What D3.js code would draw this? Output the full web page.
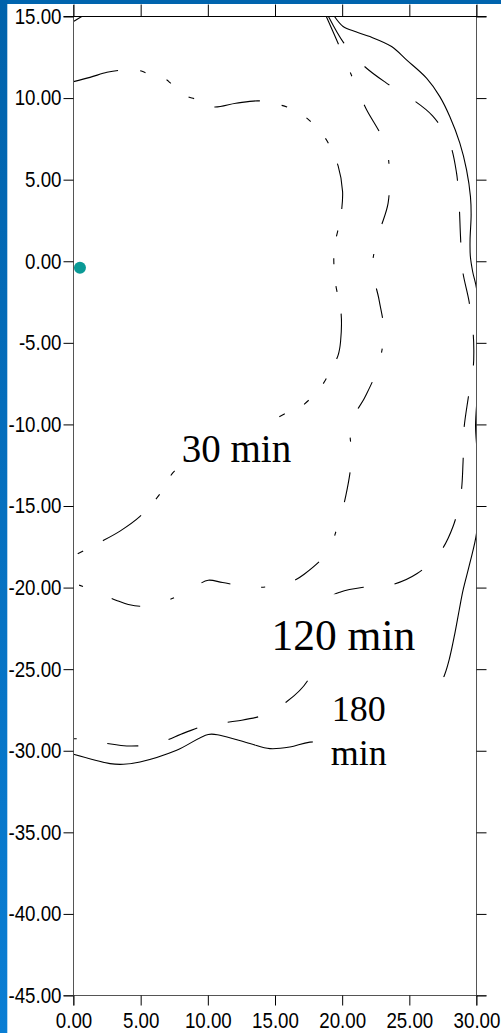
<!DOCTYPE html>
<html>
<head>
<meta charset="utf-8">
<script src="https://cdn.jsdelivr.net/npm/d3@7"></script>
<style>
html, body { margin: 0; padding: 0; background: #fff; }
svg { display: block; }
</style>
</head>
<body>
<div id="chart"></div>
<script>
// axis ticks
var xTicks = [0, 5, 10, 15, 20, 25, 30];
var yTicks = [15, 10, 5, 0, -5, -10, -15, -20, -25, -30, -35, -40, -45];

// well location
var well = [[0.48, -0.4]];

// 30 min contour (dash-dot-dot)
var c30 = [[0,11.01],[1.23,11.27],[2.49,11.58],[3.33,11.69],[4.9,11.69],[5.32,11.57],[6.93,11.12],
  [7.18,10.95],[8.52,10.08],[9.04,9.95],[10.38,9.46],[12.09,9.68],[13.8,9.83],[15.36,9.58],[15.89,9.46],
  [17.23,8.85],[17.6,8.6],[18.71,7.58],[19.01,7.17],[19.7,5.84],[20.03,4.27],[19.96,3.14],[19.83,2.43],
  [19.4,0.69],[19.49,-1.25],[19.92,-3.19],[19.88,-4.93],[19.7,-5.75],[19.08,-6.79],[18.34,-7.79],
  [16.98,-8.88],[16.61,-9.0],[14.25,-9.98],[11.64,-11.15],[9.04,-12.19],[7.55,-12.83],[6.41,-14.29],
  [4.95,-15.64],[3.46,-16.54],[1.97,-17.22],[0.24,-17.95],[0,-18.04]];

// unlabelled contour (dash-dot)
var c60 = [[18.82,15],[19.78,13.2],[20.74,11.3],[21.76,9.38],[22.86,7.79],[23.33,6.82],[23.5,5.72],
  [23.42,3.56],[22.75,1.72],[22.25,-0.35],[22.75,-2.38],[23.1,-4.32],[22.67,-6.47],[21.69,-8.34],
  [20.63,-9.94],[20.7,-12.07],[20.28,-14.34],[19.68,-16.18],[18.9,-17.83],[17.17,-19.18],[16.35,-19.59],
  [15.36,-19.85],[13.21,-19.98],[11.1,-19.69],[10.03,-19.55],[9.21,-19.85],[7.18,-20.73],[5.07,-21.14],
  [4.08,-21.04],[3.16,-20.77],[1.13,-20.06],[0,-19.73]];

// 120 min contour (dashed)
var c120 = [[18.98,15],[20.13,13.37],[21.61,11.98],[23.25,10.95],[25.09,10.0],[26.73,8.91],[27.96,7.33],
  [28.51,5.43],[28.71,3.45],[28.81,1.51],[28.96,-0.54],[29.45,-2.48],[29.75,-4.4],[29.8,-5.44],
  [29.76,-6.47],[29.38,-8.4],[29.06,-10.35],[29.0,-12.29],[28.83,-14.33],[28.26,-16.24],[27.22,-17.91],
  [25.58,-19.14],[23.75,-19.81],[21.74,-19.96],[19.88,-20.27],[18.79,-20.77],[18.27,-22.0],[18.04,-23.53],
  [17.75,-24.94],[17.4,-25.74],[15.91,-26.97],[14.08,-27.83],[12.14,-28.18],[10.03,-28.4],[8.3,-28.89],
  [6.31,-29.53],[4.33,-29.71],[2.34,-29.53],[1.23,-29.32],[0,-29.26]];

// 180 min contour (solid)
var c180 = [[19.43,15],[20.07,14.39],[21.02,14.06],[22.06,13.77],[23.68,13.16],[24.79,12.34],[26.28,11.22],
  [27.27,10.09],[28.01,8.87],[28.76,7.24],[29.26,5.6],[29.55,3.96],[29.6,2.84],[29.52,1.3],[29.54,0.32],
  [29.72,-0.66],[30.0,-1.66],[30.17,-3.6],[30.21,-6.06],[30.06,-8.2],[29.93,-10.1],[30.06,-11.88],
  [30.17,-14.33],[30.0,-16.68],[29.5,-18.52],[29.0,-20.16],[28.71,-21.39],[28.39,-22.8],[28.01,-24.27],
  [27.64,-25.31],[26.75,-26.91],[25.04,-28.26],[22.66,-29.11],[20.2,-29.48],[17.6,-29.47],[16.11,-29.77],
  [14.62,-29.87],[13.13,-29.56],[10.9,-29.05],[10.03,-29.0],[7.68,-29.97],[4.95,-30.69],[3.71,-30.83],
  [2.72,-30.79],[0,-30.22]];

var cornerBit = [[0,14.69],[0.61,15]];

var labelText = [['30 min'], ['120 min'], ['180', 'min']];
var labelAt = [[12.13,-12.31], [20.09,-23.84], [21.24,-28.18]];

var W = 501, H = 1033;
var x = d3.scaleLinear().domain([0, 30]).range([73.5, 476.5]);
var y = d3.scaleLinear().domain([-45, 15]).range([995.5, 16.5]);

var svg = d3.select('#chart').append('svg')
  .attr('width', W)
  .attr('height', H);

var defs = svg.append('defs');
var grad = defs.append('linearGradient').attr('id', 'edge')
  .attr('x1', 0).attr('y1', 0).attr('x2', 0).attr('y2', 1);
grad.append('stop').attr('offset', '0%').attr('stop-color', '#0062ab');
grad.append('stop').attr('offset', '100%').attr('stop-color', '#0a7ed4');

defs.append('clipPath').attr('id', 'plotclip')
  .append('rect')
  .attr('x', x(0)).attr('y', y(15))
  .attr('width', x(30) - x(0)).attr('height', y(-45) - y(15));

svg.append('rect').attr('x', 0).attr('y', 0).attr('width', W).attr('height', 4).attr('fill', '#0064ae');
svg.append('rect').attr('x', 0).attr('y', 0).attr('width', 7.3).attr('height', H).attr('fill', 'url(#edge)');

var line = d3.line()
  .x(function(d){ return x(d[0]); })
  .y(function(d){ return y(d[1]); })
  .curve(d3.curveCatmullRom.alpha(0.5));

var plot = svg.append('g').attr('clip-path', 'url(#plotclip)');

var curves = [
  {data: c30, dash: '46,22,6,22,6,22,6,22'},
  {data: c60, dash: '30,31,4,31'},
  {data: c120, dash: '31,31'},
  {data: c180, dash: null},
  {data: cornerBit, dash: null}
];

curves.forEach(function(c){
  plot.append('path')
    .datum(c.data)
    .attr('d', line)
    .attr('fill', 'none')
    .attr('stroke', '#000')
    .attr('stroke-width', 1.1)
    .attr('stroke-dasharray', c.dash);
});

// labels with white boxes
var labelSize = [39, 43.5, 36];
var labelPad = [[8, 44, 8, 4], [8, 56, 13, 18], [18, 44, 59, 7]];
var labelLead = 44.3;

labelText.forEach(function(lines, i){
  var g = svg.append('g');
  var box = g.append('rect').attr('fill', '#fff');
  var t = g.append('text')
    .attr('x', x(labelAt[i][0]))
    .attr('y', y(labelAt[i][1]))
    .attr('text-anchor', 'middle')
    .attr('font-family', '"Liberation Serif", "Times New Roman", serif')
    .attr('font-size', labelSize[i])
    .attr('fill', '#000');
  lines.forEach(function(s, j){
    t.append('tspan')
      .attr('x', x(labelAt[i][0]))
      .attr('dy', j === 0 ? 0 : labelLead)
      .text(s);
  });
  var bb = t.node().getBBox();
  var base = y(labelAt[i][1]);
  var p = labelPad[i];
  var lastBase = base + labelLead * (lines.length - 1);
  box.attr('x', bb.x - p[0])
    .attr('y', base - p[1])
    .attr('width', bb.width + p[0] + p[2])
    .attr('height', lastBase - base + p[1] + p[3]);
});

svg.append('g').selectAll('circle')
  .data(well)
  .enter().append('circle')
  .attr('cx', function(d){ return x(d[0]); })
  .attr('cy', function(d){ return y(d[1]); })
  .attr('r', 6)
  .attr('fill', '#0a9a96');

// frame lines, each running a tick length past the corners
var frame = svg.append('g').attr('stroke-width', 1);
frame.append('line').attr('x1', x(0)).attr('x2', x(0)).attr('y1', 5).attr('y2', 1005.5).attr('stroke', '#555');
frame.append('line').attr('x1', x(30)).attr('x2', x(30)).attr('y1', 5).attr('y2', 1005.5).attr('stroke', '#555');
frame.append('line').attr('x1', 63.5).attr('x2', 486.5).attr('y1', y(15)).attr('y2', y(15)).attr('stroke', '#000');
frame.append('line').attr('x1', 63.5).attr('x2', 486.5).attr('y1', y(-45)).attr('y2', y(-45)).attr('stroke', '#555');

var fmt = function(d){ return d.toFixed(2); };
var squeeze = 0.87;

function styleAxis(g){
  g.select('.domain').remove();
  g.selectAll('.tick line').attr('stroke', '#000');
  g.selectAll('.tick text')
    .attr('fill', '#000')
    .attr('font-family', '"Liberation Sans", Arial, sans-serif')
    .attr('font-size', 21.5)
    .attr('x', function(){ return (+d3.select(this).attr('x') || 0) / squeeze; })
    .attr('transform', 'scale(' + squeeze + ',1)');
}

svg.append('g')
  .attr('transform', 'translate(' + x(0) + ',0)')
  .call(d3.axisLeft(y).tickValues(yTicks).tickSize(10).tickPadding(2).tickFormat(fmt))
  .call(styleAxis);

svg.append('g')
  .attr('transform', 'translate(0,' + y(-45) + ')')
  .call(d3.axisBottom(x).tickValues(xTicks).tickSize(10).tickPadding(7).tickFormat(fmt))
  .call(styleAxis);

svg.append('g')
  .attr('transform', 'translate(0,' + y(15) + ')')
  .call(d3.axisTop(x).tickValues(xTicks).tickSize(12).tickFormat(''))
  .call(styleAxis);

svg.append('g')
  .attr('transform', 'translate(' + x(30) + ',0)')
  .call(d3.axisRight(y).tickValues(yTicks).tickSize(10).tickFormat(''))
  .call(styleAxis);
</script>
</body>
</html>
